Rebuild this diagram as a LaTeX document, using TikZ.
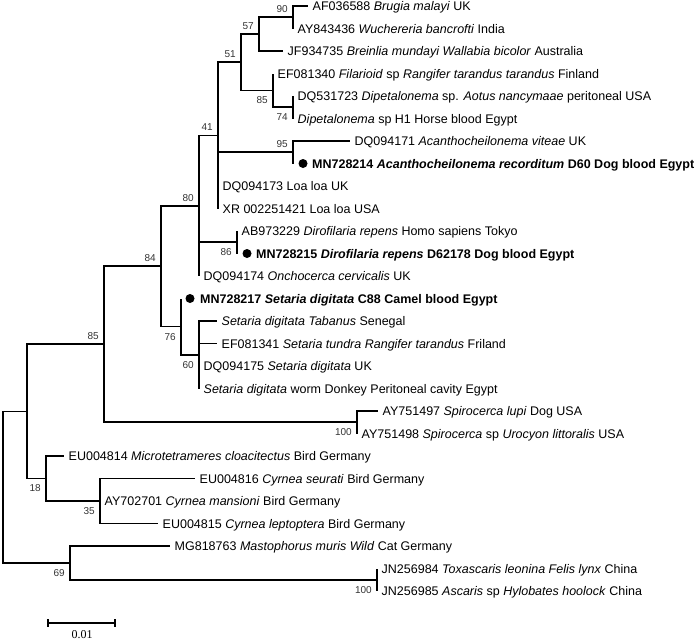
\documentclass[tikz,border=0pt]{standalone}
\usepackage{fontspec}
\setmainfont{Liberation Sans}
\newfontfamily\scalefont{Liberation Serif}
\begin{document}
\begin{tikzpicture}[x=1pt,y=-1pt,
  br/.style={line width=1.6pt, line join=miter},
  leaf/.style={anchor=base west, inner sep=0pt, xshift=4.5pt, yshift=-4.5pt, font=\fontsize{12.5pt}{15pt}\selectfont},
  leafd/.style={leaf, xshift=14.5pt},
  dotmark/.style={circle, fill=black, draw=none, inner sep=0pt, minimum size=9pt},
  lab/.style={anchor=east, inner sep=0pt, text=black!80, font=\fontsize{10pt}{12pt}\selectfont},
  below lab/.style={lab, xshift=-5pt, yshift=-10pt},
  above lab/.style={lab, xshift=-5pt, yshift=8pt}]
\useasboundingbox (0,0) rectangle (698,640);

% tips
\coordinate (t1) at (308,6);
\coordinate (t2) at (293,28.5);
\coordinate (t3) at (283,51);
\coordinate (t4) at (273,73.5);
\coordinate (t5) at (293,96);
\coordinate (t6) at (293,118.5);
\coordinate (t7) at (350,141);
\coordinate (t8) at (293,163.5);
\coordinate (t9) at (218,186);
\coordinate (t10) at (218,208.5);
\coordinate (t11) at (237,231);
\coordinate (t12) at (237,253.5);
\coordinate (t13) at (199,276);
\coordinate (t14) at (181,298.5);
\coordinate (t15) at (217,321);
\coordinate (t16) at (217,343.5);
\coordinate (t17) at (199,366);
\coordinate (t18) at (199,388.5);
\coordinate (t19) at (378,411);
\coordinate (t20) at (357,433.5);
\coordinate (t21) at (64,456);
\coordinate (t22) at (195,478.5);
\coordinate (t23) at (100,501);
\coordinate (t24) at (158,523.5);
\coordinate (t25) at (170,546);
\coordinate (t26) at (377,568.5);
\coordinate (t27) at (377,591);

% internal nodes
\coordinate (n90) at (293,17.25);
\coordinate (n57) at (259,34.1);
\coordinate (n74) at (293,107.25);
\coordinate (n85a) at (273,90.4);
\coordinate (n51) at (241,62.25);
\coordinate (n95) at (293,152.25);
\coordinate (n41) at (218,135.4);
\coordinate (n86) at (237,242.25);
\coordinate (n80) at (199,205.7);
\coordinate (n60) at (199,354.75);
\coordinate (n76) at (181,326.6);
\coordinate (n84) at (161,266.2);
\coordinate (n100a) at (357,422.25);
\coordinate (n85) at (104,344.2);
\coordinate (n35) at (100,501);
\coordinate (n18) at (46,478.5);
\coordinate (nA) at (27,411.4);
\coordinate (n100b) at (377,579.75);
\coordinate (n69) at (70,562.9);
\coordinate (root) at (3,487.15);

% branches
\draw[br] (root) |- (nA);  \draw[br] (root) |- (n69);
\draw[br] (nA) |- (n85);   \draw[br] (nA) |- (n18);
\draw[br] (n85) |- (n84);  \draw[br] (n85) |- (n100a);
\draw[br] (n84) |- (n80);  \draw[br] (n84) |- (n76);
\draw[br] (n80) |- (n41);  \draw[br] (n80) |- (n86);  \draw[br] (n80) |- (t13);
\draw[br] (n41) |- (n51);  \draw[br] (n41) |- (n95);  \draw[br] (n41) |- (t9);  \draw[br] (n41) |- (t10);
\draw[br] (n51) |- (n57);  \draw[br] (n51) |- (n85a);
\draw[br] (n57) |- (n90);  \draw[br] (n57) |- (t3);
\draw[br] (n90) |- (t1);   \draw[br] (n90) |- (t2);
\draw[br] (n85a) |- (t4);  \draw[br] (n85a) |- (n74);
\draw[br] (n74) |- (t5);   \draw[br] (n74) |- (t6);
\draw[br] (n95) |- (t7);   \draw[br] (n95) |- (t8);
\draw[br] (n86) |- (t11);  \draw[br] (n86) |- (t12);
\draw[br] (n76) |- (t14);  \draw[br] (n76) |- (n60);
\draw[br] (n60) |- (t15);  \draw[br] (n60) |- (t16);  \draw[br] (n60) |- (t17);  \draw[br] (n60) |- (t18);
\draw[br] (n100a) |- (t19); \draw[br] (n100a) |- (t20);
\draw[br] (n18) |- (t21);  \draw[br] (n18) |- (n35);
\draw[br] (n35) |- (t22);  \draw[br] (n35) |- (t24);
\draw[br] (n69) |- (t25);  \draw[br] (n69) |- (n100b);
\draw[br] (n100b) |- (t26); \draw[br] (n100b) |- (t27);

% leaf labels
\node[leaf] (l1) at (t1) {AF036588 \textit{Brugia malayi} UK};
\node[leaf] (l2) at (t2) {AY843436 \textit{Wuchereria bancrofti} India};
\node[leaf] (l3) at (t3) {JF934735 \textit{Breinlia mundayi Wallabia bicolor} Australia};
\node[leaf] (l4) at (t4) {EF081340 \textit{Filarioid} sp \textit{Rangifer tarandus tarandus} Finland};
\node[leaf] (l5) at (t5) {DQ531723 \textit{Dipetalonema} sp. \textit{Aotus nancymaae} peritoneal USA};
\node[leaf] (l6) at (t6) {\textit{Dipetalonema} sp H1 Horse blood Egypt};
\node[leaf] (l7) at (t7) {DQ094171 \textit{Acanthocheilonema viteae} UK};
\node[dotmark] (d8) at ([xshift=10pt]t8) {};
\node[leafd] (l8) at (t8) {\bfseries MN728214 \textit{Acanthocheilonema recorditum} D60 Dog blood Egypt};
\node[leaf] (l9) at (t9) {DQ094173 Loa loa UK};
\node[leaf] (l10) at (t10) {XR 002251421 Loa loa USA};
\node[leaf] (l11) at (t11) {AB973229 \textit{Dirofilaria repens} Homo sapiens Tokyo};
\node[dotmark] (d12) at ([xshift=10pt]t12) {};
\node[leafd] (l12) at (t12) {\bfseries MN728215 \textit{Dirofilaria repens} D62178 Dog blood Egypt};
\node[leaf] (l13) at (t13) {DQ094174 \textit{Onchocerca cervicalis} UK};
\node[dotmark] (d14) at ([xshift=9pt]t14) {};
\node[leafd] (l14) at (t14) {\bfseries MN728217 \textit{Setaria digitata} C88 Camel blood Egypt};
\node[leaf] (l15) at (t15) {\textit{Setaria digitata Tabanus} Senegal};
\node[leaf] (l16) at (t16) {EF081341 \textit{Setaria tundra Rangifer tarandus} Friland};
\node[leaf] (l17) at (t17) {DQ094175 \textit{Setaria digitata} UK};
\node[leaf] (l18) at (t18) {\textit{Setaria digitata} worm Donkey Peritoneal cavity Egypt};
\node[leaf] (l19) at (t19) {AY751497 \textit{Spirocerca lupi} Dog USA};
\node[leaf] (l20) at (t20) {AY751498 \textit{Spirocerca} sp \textit{Urocyon littoralis} USA};
\node[leaf] (l21) at (t21) {EU004814 \textit{Microtetrameres cloacitectus} Bird Germany};
\node[leaf] (l22) at (t22) {EU004816 \textit{Cyrnea seurati} Bird Germany};
\node[leaf] (l23) at (t23) {AY702701 \textit{Cyrnea mansioni} Bird Germany};
\node[leaf] (l24) at (t24) {EU004815 \textit{Cyrnea leptoptera} Bird Germany};
\node[leaf] (l25) at (t25) {MG818763 \textit{Mastophorus muris Wild} Cat Germany};
\node[leaf] (l26) at (t26) {JN256984 \textit{Toxascaris leonina Felis lynx} China};
\node[leaf] (l27) at (t27) {JN256985 \textit{Ascaris} sp \textit{Hylobates hoolock} China};

% support values
\node[above lab] (s90) at (n90) {90};
\node[above lab] (s57) at (n57) {57};
\node[above lab] (s51) at (n51) {51};
\node[below lab] (s85a) at (n85a) {85};
\node[below lab] (s74) at (n74) {74};
\node[above lab] (s41) at (n41) {41};
\node[above lab] (s95) at (n95) {95};
\node[above lab] (s80) at (n80) {80};
\node[below lab] (s86) at (n86) {86};
\node[above lab] (s84) at (n84) {84};
\node[below lab] (s76) at (n76) {76};
\node[below lab] (s60) at (n60) {60};
\node[above lab] (s85) at (n85) {85};
\node[below lab] (s100a) at (n100a) {100};
\node[below lab] (s18) at (n18) {18};
\node[below lab] (s35) at (n35) {35};
\node[below lab] (s69) at (n69) {69};
\node[below lab] (s100b) at (n100b) {100};

% scale bar
\coordinate (sb1) at (48,623);
\coordinate (sb2) at (115,623);
\draw[br] (sb1) -- (sb2);
\draw[br] ([yshift=4pt]sb1) -- ([yshift=-4pt]sb1);
\draw[br] ([yshift=4pt]sb2) -- ([yshift=-4pt]sb2);
\node[inner sep=0pt, font=\scalefont\fontsize{12pt}{14pt}\selectfont] (sbl) at (82,635) {0.01};
\end{tikzpicture}
\end{document}
